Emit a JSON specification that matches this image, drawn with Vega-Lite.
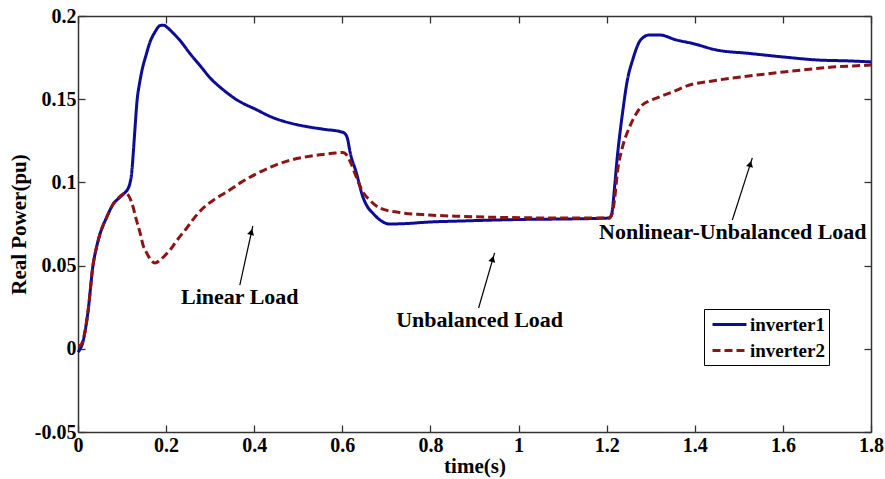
{
  "$schema": "https://vega.github.io/schema/vega-lite/v6.json",
  "width": 793,
  "height": 416,
  "autosize": {"type": "none"},
  "padding": {"left": 78, "top": 16, "right": 14, "bottom": 47},
  "background": "white",
  "config": {
    "view": {"stroke": null},
    "font": "Liberation Serif",
    "axis": {
      "grid": false,
      "labelFlush": false,
      "labelOverlap": false,
      "domainColor": "#333333",
      "domainWidth": 1.5,
      "tickColor": "#333333",
      "tickWidth": 1.3,
      "labelFont": "Liberation Serif",
      "labelFontWeight": "bold",
      "labelFontSize": 20,
      "labelColor": "black",
      "titleFont": "Liberation Serif",
      "titleFontWeight": "bold",
      "titleFontSize": 21,
      "titleColor": "black"
    },
    "legend": {
      "labelFont": "Liberation Serif",
      "labelFontWeight": "bold",
      "labelFontSize": 19,
      "labelColor": "black"
    }
  },
  "datasets": {
    "power": [
      {"t": 0, "P": -0.002, "series": "inverter1"},
      {"t": 0.005, "P": 0.0, "series": "inverter1"},
      {"t": 0.01, "P": 0.003, "series": "inverter1"},
      {"t": 0.017, "P": 0.012, "series": "inverter1"},
      {"t": 0.023, "P": 0.023, "series": "inverter1"},
      {"t": 0.034, "P": 0.05, "series": "inverter1"},
      {"t": 0.042, "P": 0.061, "series": "inverter1"},
      {"t": 0.05, "P": 0.069, "series": "inverter1"},
      {"t": 0.065, "P": 0.079, "series": "inverter1"},
      {"t": 0.08, "P": 0.087, "series": "inverter1"},
      {"t": 0.095, "P": 0.091, "series": "inverter1"},
      {"t": 0.107, "P": 0.094, "series": "inverter1"},
      {"t": 0.113, "P": 0.096, "series": "inverter1"},
      {"t": 0.118, "P": 0.0996, "series": "inverter1"},
      {"t": 0.122, "P": 0.106, "series": "inverter1"},
      {"t": 0.125, "P": 0.116, "series": "inverter1"},
      {"t": 0.129, "P": 0.131, "series": "inverter1"},
      {"t": 0.134, "P": 0.149, "series": "inverter1"},
      {"t": 0.14, "P": 0.16, "series": "inverter1"},
      {"t": 0.145, "P": 0.167, "series": "inverter1"},
      {"t": 0.155, "P": 0.177, "series": "inverter1"},
      {"t": 0.163, "P": 0.184, "series": "inverter1"},
      {"t": 0.175, "P": 0.1905, "series": "inverter1"},
      {"t": 0.186, "P": 0.1942, "series": "inverter1"},
      {"t": 0.195, "P": 0.1945, "series": "inverter1"},
      {"t": 0.203, "P": 0.193, "series": "inverter1"},
      {"t": 0.215, "P": 0.19, "series": "inverter1"},
      {"t": 0.231, "P": 0.1855, "series": "inverter1"},
      {"t": 0.254, "P": 0.1775, "series": "inverter1"},
      {"t": 0.277, "P": 0.1702, "series": "inverter1"},
      {"t": 0.3, "P": 0.1628, "series": "inverter1"},
      {"t": 0.329, "P": 0.1558, "series": "inverter1"},
      {"t": 0.36, "P": 0.1497, "series": "inverter1"},
      {"t": 0.405, "P": 0.1437, "series": "inverter1"},
      {"t": 0.44, "P": 0.1392, "series": "inverter1"},
      {"t": 0.481, "P": 0.1357, "series": "inverter1"},
      {"t": 0.52, "P": 0.1335, "series": "inverter1"},
      {"t": 0.556, "P": 0.132, "series": "inverter1"},
      {"t": 0.6, "P": 0.1302, "series": "inverter1"},
      {"t": 0.607, "P": 0.129, "series": "inverter1"},
      {"t": 0.612, "P": 0.126, "series": "inverter1"},
      {"t": 0.617, "P": 0.119, "series": "inverter1"},
      {"t": 0.632, "P": 0.1056, "series": "inverter1"},
      {"t": 0.647, "P": 0.091, "series": "inverter1"},
      {"t": 0.658, "P": 0.085, "series": "inverter1"},
      {"t": 0.669, "P": 0.0816, "series": "inverter1"},
      {"t": 0.685, "P": 0.0775, "series": "inverter1"},
      {"t": 0.707, "P": 0.075, "series": "inverter1"},
      {"t": 0.74, "P": 0.0752, "series": "inverter1"},
      {"t": 0.798, "P": 0.0762, "series": "inverter1"},
      {"t": 0.87, "P": 0.0768, "series": "inverter1"},
      {"t": 0.95, "P": 0.0774, "series": "inverter1"},
      {"t": 1.02, "P": 0.0778, "series": "inverter1"},
      {"t": 1.1, "P": 0.078, "series": "inverter1"},
      {"t": 1.206, "P": 0.0786, "series": "inverter1"},
      {"t": 1.212, "P": 0.082, "series": "inverter1"},
      {"t": 1.218, "P": 0.0972, "series": "inverter1"},
      {"t": 1.224, "P": 0.115, "series": "inverter1"},
      {"t": 1.229, "P": 0.127, "series": "inverter1"},
      {"t": 1.236, "P": 0.1417, "series": "inverter1"},
      {"t": 1.247, "P": 0.1615, "series": "inverter1"},
      {"t": 1.259, "P": 0.1736, "series": "inverter1"},
      {"t": 1.274, "P": 0.1844, "series": "inverter1"},
      {"t": 1.285, "P": 0.1875, "series": "inverter1"},
      {"t": 1.297, "P": 0.1886, "series": "inverter1"},
      {"t": 1.32, "P": 0.1886, "series": "inverter1"},
      {"t": 1.358, "P": 0.1856, "series": "inverter1"},
      {"t": 1.395, "P": 0.1835, "series": "inverter1"},
      {"t": 1.449, "P": 0.1796, "series": "inverter1"},
      {"t": 1.524, "P": 0.1775, "series": "inverter1"},
      {"t": 1.6, "P": 0.1754, "series": "inverter1"},
      {"t": 1.676, "P": 0.1736, "series": "inverter1"},
      {"t": 1.75, "P": 0.173, "series": "inverter1"},
      {"t": 1.8, "P": 0.1724, "series": "inverter1"},

      {"t": 0, "P": 0.002, "series": "inverter2"},
      {"t": 0.005, "P": 0.002, "series": "inverter2"},
      {"t": 0.01, "P": 0.004, "series": "inverter2"},
      {"t": 0.017, "P": 0.012, "series": "inverter2"},
      {"t": 0.023, "P": 0.023, "series": "inverter2"},
      {"t": 0.034, "P": 0.05, "series": "inverter2"},
      {"t": 0.042, "P": 0.061, "series": "inverter2"},
      {"t": 0.05, "P": 0.069, "series": "inverter2"},
      {"t": 0.065, "P": 0.079, "series": "inverter2"},
      {"t": 0.08, "P": 0.087, "series": "inverter2"},
      {"t": 0.095, "P": 0.0915, "series": "inverter2"},
      {"t": 0.107, "P": 0.0936, "series": "inverter2"},
      {"t": 0.115, "P": 0.092, "series": "inverter2"},
      {"t": 0.125, "P": 0.0852, "series": "inverter2"},
      {"t": 0.133, "P": 0.077, "series": "inverter2"},
      {"t": 0.141, "P": 0.0696, "series": "inverter2"},
      {"t": 0.148, "P": 0.062, "series": "inverter2"},
      {"t": 0.156, "P": 0.0576, "series": "inverter2"},
      {"t": 0.165, "P": 0.0535, "series": "inverter2"},
      {"t": 0.175, "P": 0.0515, "series": "inverter2"},
      {"t": 0.186, "P": 0.0533, "series": "inverter2"},
      {"t": 0.197, "P": 0.056, "series": "inverter2"},
      {"t": 0.209, "P": 0.0594, "series": "inverter2"},
      {"t": 0.227, "P": 0.066, "series": "inverter2"},
      {"t": 0.247, "P": 0.0726, "series": "inverter2"},
      {"t": 0.265, "P": 0.079, "series": "inverter2"},
      {"t": 0.284, "P": 0.0846, "series": "inverter2"},
      {"t": 0.31, "P": 0.0898, "series": "inverter2"},
      {"t": 0.337, "P": 0.0942, "series": "inverter2"},
      {"t": 0.37, "P": 0.1, "series": "inverter2"},
      {"t": 0.405, "P": 0.1052, "series": "inverter2"},
      {"t": 0.44, "P": 0.1095, "series": "inverter2"},
      {"t": 0.481, "P": 0.1133, "series": "inverter2"},
      {"t": 0.52, "P": 0.1155, "series": "inverter2"},
      {"t": 0.556, "P": 0.1168, "series": "inverter2"},
      {"t": 0.585, "P": 0.1177, "series": "inverter2"},
      {"t": 0.601, "P": 0.118, "series": "inverter2"},
      {"t": 0.608, "P": 0.117, "series": "inverter2"},
      {"t": 0.617, "P": 0.113, "series": "inverter2"},
      {"t": 0.632, "P": 0.103, "series": "inverter2"},
      {"t": 0.647, "P": 0.094, "series": "inverter2"},
      {"t": 0.662, "P": 0.0894, "series": "inverter2"},
      {"t": 0.685, "P": 0.0846, "series": "inverter2"},
      {"t": 0.723, "P": 0.0822, "series": "inverter2"},
      {"t": 0.798, "P": 0.0804, "series": "inverter2"},
      {"t": 0.87, "P": 0.0796, "series": "inverter2"},
      {"t": 0.95, "P": 0.079, "series": "inverter2"},
      {"t": 1.1, "P": 0.0786, "series": "inverter2"},
      {"t": 1.206, "P": 0.0786, "series": "inverter2"},
      {"t": 1.213, "P": 0.0816, "series": "inverter2"},
      {"t": 1.218, "P": 0.09, "series": "inverter2"},
      {"t": 1.225, "P": 0.1074, "series": "inverter2"},
      {"t": 1.236, "P": 0.1213, "series": "inverter2"},
      {"t": 1.252, "P": 0.1333, "series": "inverter2"},
      {"t": 1.268, "P": 0.1417, "series": "inverter2"},
      {"t": 1.281, "P": 0.1465, "series": "inverter2"},
      {"t": 1.297, "P": 0.149, "series": "inverter2"},
      {"t": 1.313, "P": 0.1507, "series": "inverter2"},
      {"t": 1.349, "P": 0.1543, "series": "inverter2"},
      {"t": 1.388, "P": 0.1585, "series": "inverter2"},
      {"t": 1.44, "P": 0.161, "series": "inverter2"},
      {"t": 1.485, "P": 0.1627, "series": "inverter2"},
      {"t": 1.54, "P": 0.1645, "series": "inverter2"},
      {"t": 1.6, "P": 0.1663, "series": "inverter2"},
      {"t": 1.66, "P": 0.168, "series": "inverter2"},
      {"t": 1.712, "P": 0.1693, "series": "inverter2"},
      {"t": 1.76, "P": 0.17, "series": "inverter2"},
      {"t": 1.8, "P": 0.1705, "series": "inverter2"}
    ],
    "notes": [
      {"label": "Linear Load", "tx": 0.3673, "ty": 0.0311, "x1": 0.3673, "y1": 0.0383, "x2": 0.3968, "y2": 0.0738, "hx": 0.3935, "hy": 0.0702},
      {"label": "Unbalanced Load", "tx": 0.9116, "ty": 0.0173, "x1": 0.9093, "y1": 0.0245, "x2": 0.9456, "y2": 0.0576, "hx": 0.941, "hy": 0.054},
      {"label": "Nonlinear-Unbalanced Load", "tx": 1.4864, "ty": 0.0702, "x1": 1.4853, "y1": 0.0774, "x2": 1.5306, "y2": 0.1147, "hx": 1.526, "hy": 0.1111}
    ]
  },
  "layer": [
    {
      "data": {"name": "power"},
      "mark": {"type": "line", "strokeWidth": 3, "interpolate": "monotone"},
      "encoding": {
        "x": {
          "field": "t", "type": "quantitative",
          "scale": {"domain": [0, 1.8], "nice": false, "zero": false},
          "axis": {
            "orient": "bottom",
            "values": [0, 0.2, 0.4, 0.6, 0.8, 1, 1.2, 1.4, 1.6, 1.8],
            "labelExpr": "'' + datum.value",
            "tickSize": -7,
            "labelPadding": 10,
            "title": "time(s)",
            "titleBaseline": "alphabetic",
            "titleY": 40
          }
        },
        "y": {
          "field": "P", "type": "quantitative",
          "scale": {"domain": [-0.05, 0.2], "nice": false, "zero": false},
          "axis": {
            "orient": "left",
            "values": [-0.05, 0, 0.05, 0.1, 0.15, 0.2],
            "labelExpr": "'' + datum.value",
            "tickSize": -7,
            "labelPadding": 9,
            "title": "Real Power(pu)",
            "titleBaseline": "alphabetic",
            "titleX": -53,
            "titleY": 208
          }
        },
        "color": {
          "field": "series", "type": "nominal",
          "scale": {"domain": ["inverter1", "inverter2"], "range": ["#0c0c94", "#8c1414"]},
          "legend": {
            "title": null, "orient": "none", "legendX": 626, "legendY": 293,
            "padding": 4, "strokeColor": "black", "fillColor": "white", "cornerRadius": 0,
            "symbolType": "M-1.7,0H1.7", "symbolSize": 400, "symbolStrokeWidth": 3,
            "symbolOffset": 10, "labelOffset": 9, "rowPadding": 4
          }
        },
        "strokeDash": {
          "field": "series", "type": "nominal",
          "scale": {"domain": ["inverter1", "inverter2"], "range": [[1, 0], [8, 4]]},
          "legend": {
            "title": null, "orient": "none", "legendX": 626, "legendY": 293,
            "padding": 4, "strokeColor": "black", "fillColor": "white", "cornerRadius": 0,
            "symbolType": "M-1.7,0H1.7", "symbolSize": 400, "symbolStrokeWidth": 3,
            "symbolOffset": 10, "labelOffset": 9, "rowPadding": 4
          }
        }
      }
    },
    {
      "data": {"name": "notes"},
      "mark": {"type": "rule", "color": "black", "strokeWidth": 1.2},
      "encoding": {
        "x": {
          "field": "x1", "type": "quantitative",
          "scale": {"domain": [0, 1.8], "nice": false, "zero": false},
          "axis": {"orient": "top", "values": [0, 0.2, 0.4, 0.6, 0.8, 1, 1.2, 1.4, 1.6, 1.8], "labels": false, "title": null, "tickSize": -7}
        },
        "x2": {"field": "x2"},
        "y": {
          "field": "y1", "type": "quantitative",
          "scale": {"domain": [-0.05, 0.2], "nice": false, "zero": false},
          "axis": {"orient": "right", "values": [-0.05, 0, 0.05, 0.1, 0.15, 0.2], "labels": false, "title": null, "tickSize": -7}
        },
        "y2": {"field": "y2"}
      }
    },
    {
      "data": {"name": "notes"},
      "mark": {"type": "point", "shape": "triangle-up", "filled": true, "color": "black", "size": 50, "angle": 15, "opacity": 1},
      "encoding": {
        "x": {"field": "hx", "type": "quantitative", "scale": {"domain": [0, 1.8], "nice": false, "zero": false}, "axis": null},
        "y": {"field": "hy", "type": "quantitative", "scale": {"domain": [-0.05, 0.2], "nice": false, "zero": false}, "axis": null}
      }
    },
    {
      "data": {"name": "notes"},
      "mark": {"type": "text", "font": "Liberation Serif", "fontWeight": "bold", "fontSize": 22, "color": "black", "align": "center", "baseline": "middle"},
      "encoding": {
        "x": {"field": "tx", "type": "quantitative", "scale": {"domain": [0, 1.8], "nice": false, "zero": false}, "axis": null},
        "y": {"field": "ty", "type": "quantitative", "scale": {"domain": [-0.05, 0.2], "nice": false, "zero": false}, "axis": null},
        "text": {"field": "label"}
      }
    }
  ],
  "resolve": {"axis": {"x": "independent", "y": "independent"}}
}
